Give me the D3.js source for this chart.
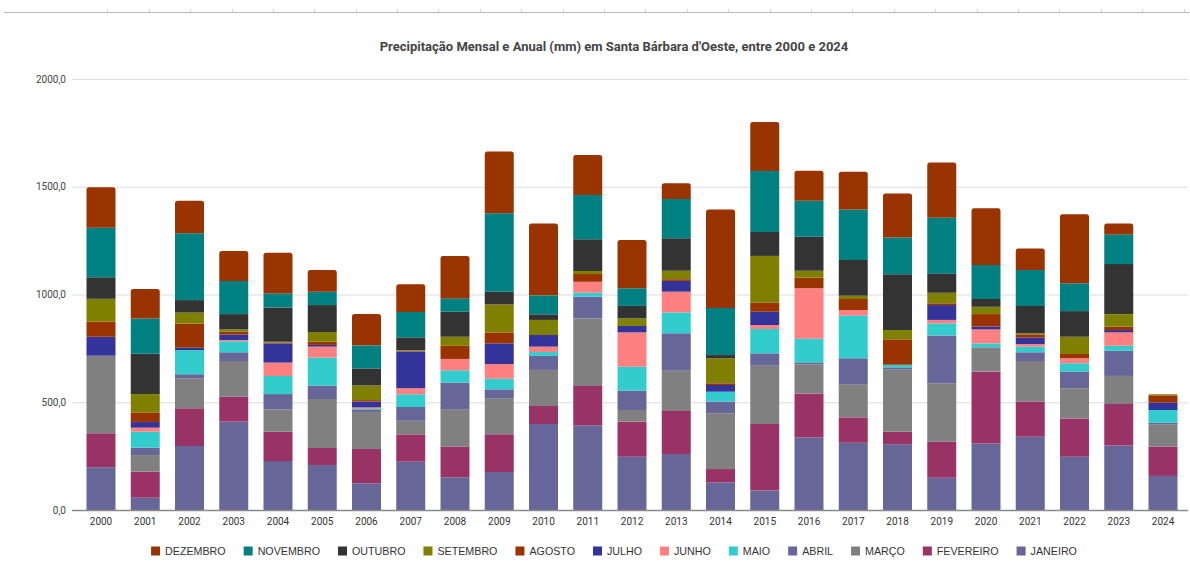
<!DOCTYPE html>
<html>
<head>
<meta charset="utf-8">
<script src="https://cdn.jsdelivr.net/npm/d3@7"></script>
<style>
  body { margin: 0; background: #fff; }
  svg { display: block; font-family: Roboto, "Liberation Sans", sans-serif; }
</style>
</head>
<body>
<div id="myDiv"></div>
<script>
// anos (categorias do eixo x)
const anos = ["2000","2001","2002","2003","2004","2005","2006","2007","2008","2009","2010","2011","2012",
  "2013","2014","2015","2016","2017","2018","2019","2020","2021","2022","2023","2024"];

// precipitação mensal (mm), um valor por ano
const janeiro   = [198, 57, 297, 410, 227, 209, 124, 224, 152, 176, 399, 393, 247, 260, 128, 90, 337, 312, 305, 150, 309, 340, 247, 299, 158];
const fevereiro = [158, 121, 175, 116, 136, 79, 159, 127, 142, 175, 84, 182, 163, 199, 62, 309, 204, 118, 58, 167, 333, 163, 178, 193, 136];
const marco     = [360, 77, 139, 165, 104, 227, 172, 63, 173, 167, 167, 314, 54, 187, 259, 271, 135, 153, 290, 271, 113, 188, 140, 130, 104];
const abril     = [0, 34, 19, 41, 71, 62, 9, 64, 124, 42, 65, 101, 90, 174, 54, 57, 9, 121, 9, 222, 0, 41, 77, 117, 7];
const maio      = [0, 74, 112, 51, 84, 130, 5, 59, 57, 49, 18, 18, 111, 97, 46, 113, 110, 198, 12, 56, 18, 26, 39, 23, 59];
const junho     = [0, 19, 0, 6, 62, 51, 7, 28, 53, 68, 25, 51, 159, 96, 0, 18, 234, 26, 0, 16, 65, 12, 23, 62, 0];
const julho     = [88, 26, 11, 25, 89, 8, 27, 171, 0, 96, 54, 0, 30, 50, 31, 62, 0, 0, 0, 69, 13, 30, 0, 11, 34];
const agosto    = [70, 45, 112, 13, 4, 15, 7, 3, 61, 51, 0, 36, 0, 8, 8, 42, 49, 51, 118, 8, 58, 15, 20, 16, 34];
const setembro  = [106, 85, 51, 11, 4, 45, 68, 3, 42, 130, 70, 14, 35, 39, 116, 217, 32, 15, 43, 49, 34, 5, 80, 58, 5];
const outubro   = [100, 187, 58, 71, 159, 125, 79, 59, 116, 59, 26, 147, 58, 151, 15, 111, 158, 166, 259, 90, 36, 127, 119, 232, 0];
const novembro  = [230, 164, 310, 154, 65, 62, 107, 118, 62, 364, 88, 206, 82, 182, 218, 283, 167, 235, 171, 258, 158, 167, 129, 138, 0];
const dezembro  = [188, 136, 151, 139, 189, 101, 145, 128, 197, 286, 334, 185, 224, 73, 458, 227, 139, 175, 204, 257, 263, 100, 320, 51, 0];

// nomes dos meses (de baixo para cima na pilha) e cores
const meses = ["JANEIRO","FEVEREIRO","MARÇO","ABRIL","MAIO","JUNHO","JULHO","AGOSTO","SETEMBRO","OUTUBRO","NOVEMBRO","DEZEMBRO"];
const series = [janeiro, fevereiro, marco, abril, maio, junho, julho, agosto, setembro, outubro, novembro, dezembro];
const cores = ["#666699","#993366","#808080","#666699","#33cccc","#ff8080","#333399","#993300","#808000","#333333","#008080","#993300"];

const yTicks = [0, 500, 1000, 1500, 2000];
const titulo = "Precipitação Mensal e Anual (mm) em Santa Bárbara d'Oeste, entre 2000 e 2024";

// tabela para o d3.stack: uma linha por ano
let tabela = anos.map(function (ano, i) {
  let linha = { ano: ano };
  meses.forEach(function (m, j) { linha[m] = series[j][i]; });
  return linha;
});

const W = 1190, H = 577;
let svg = d3.select("#myDiv").append("svg")
  .attr("width", W)
  .attr("height", H);

// régua cinza no topo (borda da planilha)
svg.append("line")
  .attr("x1", 4).attr("x2", W).attr("y1", 12.5).attr("y2", 12.5)
  .attr("stroke", "#b8b8b8").attr("stroke-width", 1.2);
for (let x = 107.3; x < W; x += 41.4) {
  svg.append("line")
    .attr("x1", Math.round(x) + 0.5).attr("x2", Math.round(x) + 0.5)
    .attr("y1", 9).attr("y2", 12)
    .attr("stroke", "#d6d6d6");
}

// escalas
let x = d3.scaleBand()
  .domain(anos)
  .range([75, 1189])
  .paddingInner(0.345)
  .paddingOuter(0.26);

let y = d3.scaleLinear()
  .domain([0, 2000])
  .range([510, 79]);

let colour = d3.scaleOrdinal().domain(meses).range(cores);

// título
svg.append("text")
  .attr("x", 614)
  .attr("y", 51)
  .attr("text-anchor", "middle")
  .attr("font-size", "13px")
  .attr("font-weight", "bold")
  .attr("fill", "#444")
  .text(titulo);

// linhas de grade + rótulos do eixo y
let yAxis = d3.axisLeft(y)
  .tickValues(yTicks)
  .tickSize(-(1188 - 72))
  .tickPadding(6)
  .tickFormat(function (d) { return d.toFixed(1).replace(".", ","); });

let gy = svg.append("g")
  .attr("transform", "translate(72,0)")
  .call(yAxis);
gy.select(".domain").remove();
gy.selectAll(".tick line").attr("stroke", "#dcdcdc");
gy.selectAll(".tick text")
  .attr("font-family", "Roboto, sans-serif")
  .attr("font-size", "10px")
  .attr("fill", "#444");

// barras empilhadas
let pilha = d3.stack().keys(meses)(tabela);

// topo de cada ano (último mês com valor) leva cantos arredondados
let topo = anos.map(function (a, i) {
  let k = -1;
  meses.forEach(function (m, j) { if (series[j][i] > 0) { k = j; } });
  return k;
});

function topoArredondado(x0, y0, w, h, r) {
  r = Math.min(r, h);
  return "M" + x0 + "," + (y0 + h) +
    "V" + (y0 + r) + "Q" + x0 + "," + y0 + " " + (x0 + r) + "," + y0 +
    "H" + (x0 + w - r) + "Q" + (x0 + w) + "," + y0 + " " + (x0 + w) + "," + (y0 + r) +
    "V" + (y0 + h) + "Z";
}

let camadas = svg.append("g").selectAll("g")
  .data(pilha)
  .enter().append("g")
  .attr("fill", function (d) { return colour(d.key); });

camadas.selectAll("path")
  .data(function (d) { return d.map(function (p) { p.mes = d.index; return p; }); })
  .enter().append("path")
  .attr("d", function (d, i) {
    let x0 = x(d.data.ano), w = x.bandwidth();
    let yTop = y(d[1]), h = y(d[0]) - y(d[1]);
    if (h <= 0) { return null; }
    if (topo[i] === d.mes) { return topoArredondado(x0, yTop, w, h, 2.5); }
    return "M" + x0 + "," + yTop + "h" + w + "v" + h + "h" + (-w) + "Z";
  });

// eixo x
let gx = svg.append("g")
  .attr("transform", "translate(0,510)")
  .call(d3.axisBottom(x).tickSize(0).tickPadding(8));
gx.select(".domain")
  .attr("d", "M72,0.5H1188")
  .attr("stroke", "#8a8a8a")
  .attr("stroke-width", 1.3);
gx.selectAll(".tick text")
  .attr("font-family", "Roboto, sans-serif")
  .attr("font-size", "10px")
  .attr("fill", "#333");

// legenda (de DEZEMBRO a JANEIRO)
let legenda = svg.append("g");
let ordemLegenda = meses.slice().reverse();
let lx = 0;
ordemLegenda.forEach(function (m) {
  let item = legenda.append("g").attr("transform", "translate(" + lx + ",0)");
  item.append("rect")
    .attr("x", 0).attr("y", -4.5)
    .attr("width", 9).attr("height", 9)
    .attr("fill", colour(m));
  let t = item.append("text")
    .attr("x", 14).attr("y", 3.8)
    .attr("font-family", "'Liberation Sans', Arial, sans-serif")
    .attr("font-size", "10.7px")
    .attr("fill", "#333")
    .text(m);
  lx += 14 + t.node().getComputedTextLength() + 18;
});
lx -= 18;
legenda.attr("transform", "translate(" + (614 - lx / 2) + ",551)");
</script>
</body>
</html>
